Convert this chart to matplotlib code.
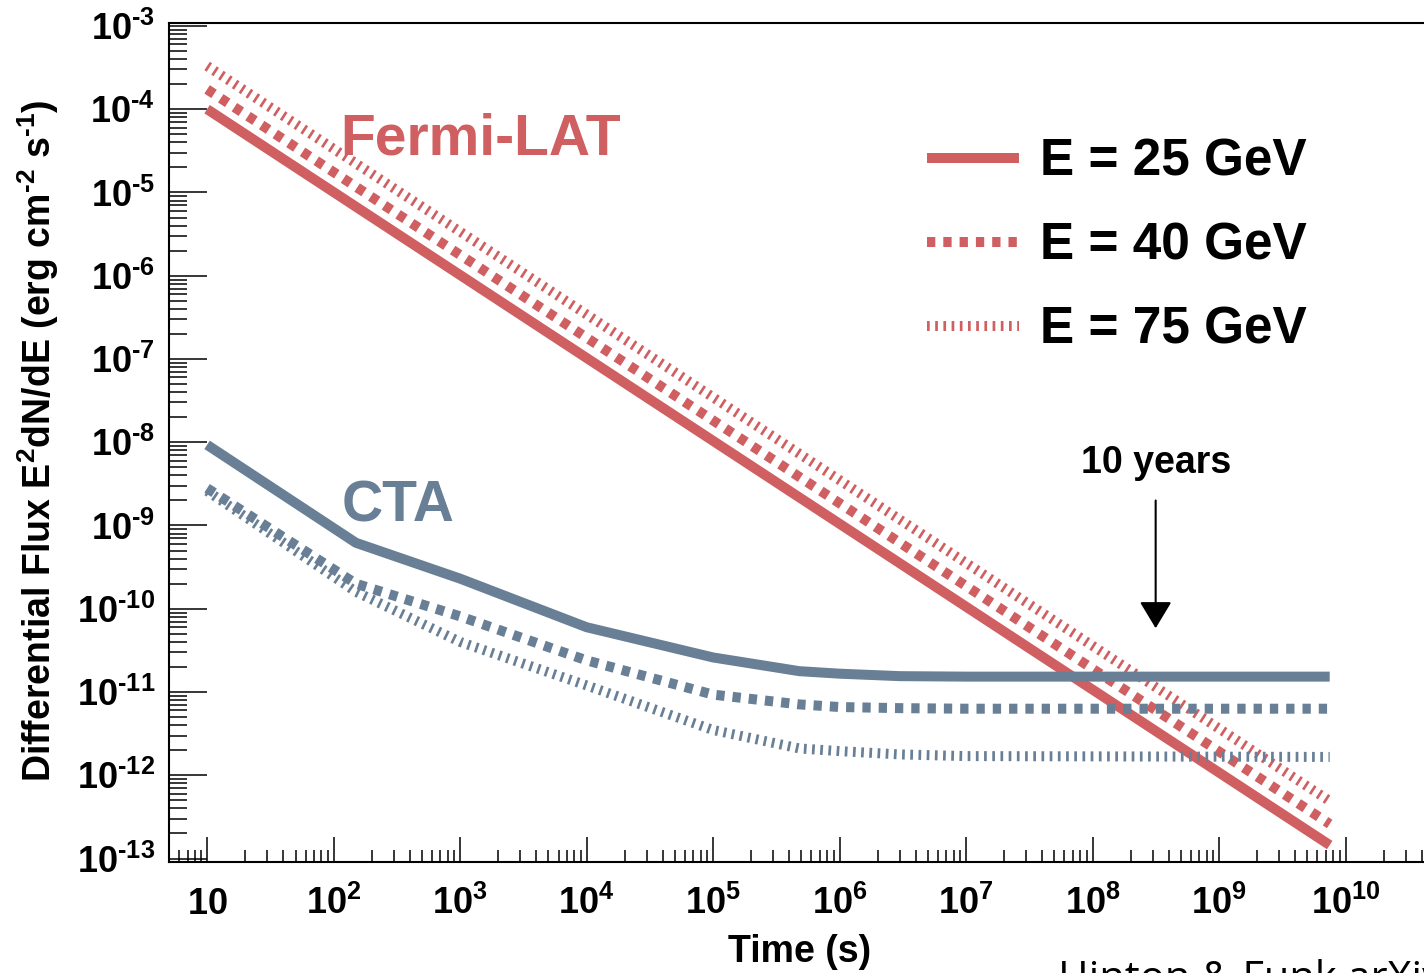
import numpy as np
import matplotlib
matplotlib.use("Agg")
import matplotlib.pyplot as plt
from matplotlib.ticker import LogLocator, NullFormatter

plt.rcParams["font.family"] = ["Liberation Sans", "DejaVu Sans"]
plt.rcParams["mathtext.fontset"] = "custom"
plt.rcParams["mathtext.rm"] = "Liberation Sans:bold"
plt.rcParams["mathtext.bf"] = "Liberation Sans:bold"
plt.rcParams["mathtext.default"] = "bf"

# Fermi-LAT sensitivity (straight power laws)
fermi_t = [10, 7.5e9]
fermi_25 = [1.0e-4, 1.45e-13]
fermi_40 = [1.73e-4, 2.6e-13]
fermi_75 = [3.3e-4, 4.9e-13]

# CTA sensitivity
cta_t = [10, 150, 1e3, 1e4, 1e5, 4.8e5, 1e6, 3e6, 1e7, 7.5e9]
cta_25 = [9.3e-9, 6.2e-10, 2.3e-10, 6.0e-11, 2.6e-11, 1.78e-11, 1.66e-11, 1.55e-11, 1.53e-11, 1.53e-11]
cta_40 = [2.8e-9, 2.0e-10, 8.1e-11, 2.4e-11, 9.3e-12, 7.1e-12, 6.6e-12, 6.4e-12, 6.3e-12, 6.3e-12]
cta_75 = [2.6e-9, 1.6e-10, 4.0e-11, 1.2e-11, 3.5e-12, 2.1e-12, 1.95e-12, 1.78e-12, 1.7e-12, 1.66e-12]

energies = ["E = 25 GeV", "E = 40 GeV", "E = 75 GeV"]

xtick_pos = [10.0 ** k for k in range(1, 11)]
xtick_labels = ["$10$"] + ["$10^{%d}$" % k for k in range(2, 11)]
ytick_pos = [10.0 ** k for k in range(-13, -2)]
ytick_labels = [r"$10^{\text{-}%d}$" % -k for k in range(-13, -2)]

ten_years = 10 * 3.156e7

red = "#d05f61"
slate = "#687f95"
lw = 7.2
styles = ["-", (0, (0.83, 0.8)), (0, (0.27, 0.55))]

fig = plt.figure(figsize=(14.24, 9.73), dpi=100)
ax = fig.add_axes([0.1187, 0.1144, 0.915, 0.8617])

handles = []
for f, ls, lab in zip([fermi_25, fermi_40, fermi_75], styles, energies):
    h, = ax.plot(fermi_t, f, color=red, lw=lw, ls=ls, label=lab, solid_capstyle="butt")
    handles.append(h)
for c, ls in zip([cta_25, cta_40, cta_75], styles):
    ax.plot(cta_t, c, color=slate, lw=lw, ls=ls, solid_capstyle="butt")

ax.set_xscale("log")
ax.set_yscale("log")
ax.set_xlim(5, 1e11)
ax.set_ylim(10 ** -13.038, 10 ** -2.968)

ax.set_xticks(xtick_pos, xtick_labels, va="baseline")
ax.set_yticks(ytick_pos, ytick_labels)
ax.xaxis.set_minor_locator(LogLocator(base=10, subs=np.arange(2, 10), numticks=100))
ax.yaxis.set_minor_locator(LogLocator(base=10, subs=np.arange(2, 10), numticks=100))
ax.xaxis.set_minor_formatter(NullFormatter())
ax.yaxis.set_minor_formatter(NullFormatter())

ax.tick_params(axis="y", which="major", direction="in", length=27, width=1.1,
               labelsize=26, pad=10, right=False)
ax.tick_params(axis="y", which="minor", direction="in", length=13, width=1.1, right=False)
ax.tick_params(axis="x", which="major", direction="in", length=18, width=1.1,
               labelsize=26, pad=38, top=False)
ax.tick_params(axis="x", which="minor", direction="in", length=9, width=1.1, top=False)
for s in ax.spines.values():
    s.set_linewidth(1.5)
ax.spines["right"].set_visible(False)

ax.set_xlabel("Time (s)", fontsize=27, fontweight="bold", va="center")
ax.xaxis.set_label_coords(0.4843, -0.1077)
ax.set_ylabel(r"Differential Flux E$^{2}$dN/dE (erg cm$^{\text{-}2}$ s$^{\text{-}1}$)",
              fontsize=27, fontweight="bold", va="center")
ax.yaxis.set_label_coords(-0.1005, 0.5018)

ax.text(10 ** 3.16, 10 ** -4.36, "Fermi-LAT", color=red, fontsize=41,
        fontweight="bold", ha="center", va="center")
ax.text(10 ** 2.51, 10 ** -8.77, "CTA", color=slate, fontsize=41,
        fontweight="bold", ha="center", va="center")

ax.annotate("", xy=(ten_years, 10 ** -10.234), xytext=(ten_years, 10 ** -8.70),
            arrowprops=dict(arrowstyle="-|>,head_length=1.66,head_width=1.0",
                            color="black", lw=1.5, shrinkA=0, shrinkB=0,
                            mutation_scale=10))
ax.text(ten_years, 10 ** -8.246, "10 years", fontsize=27, fontweight="bold",
        ha="center", va="center")

ax.legend(handles, energies, loc="upper left", bbox_to_anchor=(927 / 1424, 0.8582),
          bbox_transform=fig.transFigure, frameon=False, borderpad=0, borderaxespad=0,
          handlelength=1.79, handletextpad=0.41, labelspacing=0.68,
          prop={"size": 37, "weight": "bold"})

fig.text(1058 / 1424, -0.018, "Hinton & Funk arXiv", fontsize=30,
         family="Open Sans", va="baseline")

fig.savefig("out.png", dpi=100)
